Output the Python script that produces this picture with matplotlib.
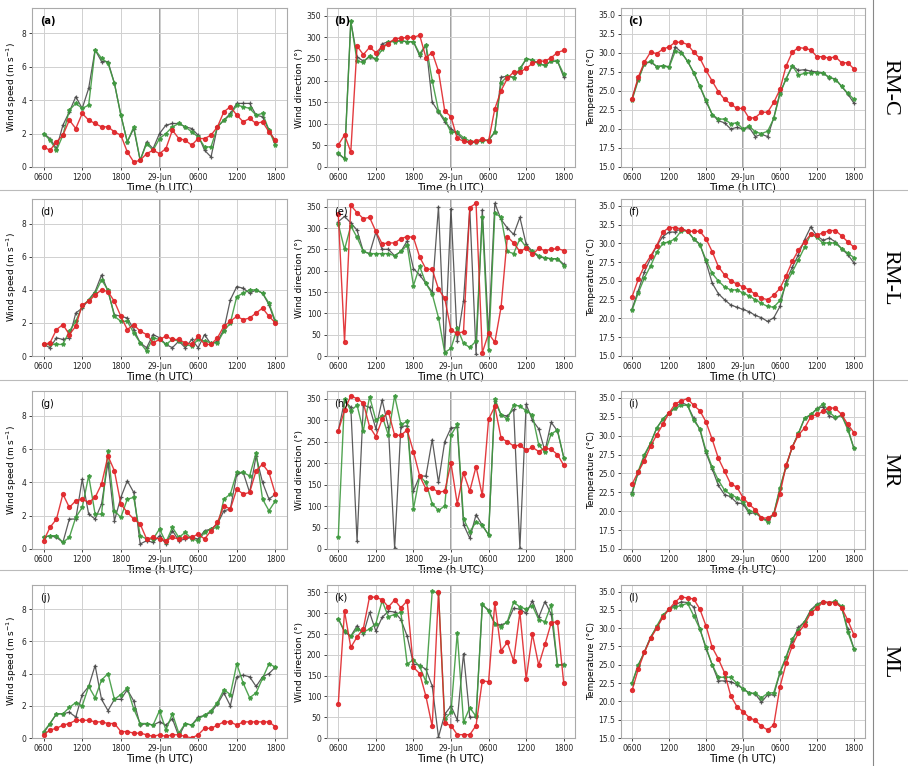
import matplotlib
matplotlib.use("Agg")
import matplotlib.pyplot as plt
from matplotlib.lines import Line2D
import numpy as np

# hourly samples, 0600 UTC 28 Jun -> 1800 UTC 29 Jun
hours = np.arange(37)
tick_pos = [0, 6, 12, 18, 24, 30, 36]
tick_lbl = ['0600', '1200', '1800', '29-Jun', '0600', '1200', '1800']
sites = ['RM-C', 'RM-L', 'MR', 'ML']

# ---- RM-C ----
a_red = [1.2, 1.0, 1.5, 1.9, 2.8, 2.3, 3.2, 2.8, 2.6, 2.4, 2.4, 2.1, 1.9, 0.9, 0.3, 0.4, 0.8, 1.0, 0.8,
         1.1, 2.2, 1.7, 1.6, 1.3, 1.7, 1.7, 1.9, 2.4, 3.3, 3.6, 3.1, 2.7, 2.9, 2.6, 2.7, 2.1, 1.6]
a_green = [2.0, 1.6, 1.0, 1.9, 3.4, 3.8, 3.5, 3.7, 7.0, 6.5, 6.2, 5.0, 3.1, 1.5, 2.4, 0.4, 1.4, 1.0, 1.7,
           2.0, 2.4, 2.6, 2.4, 2.1, 1.8, 1.2, 1.2, 2.4, 2.8, 3.1, 3.7, 3.6, 3.5, 3.1, 3.2, 2.2, 1.3]
a_grey = [2.0, 1.7, 1.1, 2.5, 3.3, 4.2, 3.5, 4.7, 7.0, 6.3, 6.3, 5.0, 3.1, 1.5, 2.3, 0.4, 1.5, 1.1, 2.0,
          2.5, 2.6, 2.6, 2.4, 2.3, 1.9, 1.0, 0.6, 2.4, 2.8, 3.2, 3.8, 3.8, 3.8, 3.1, 3.0, 2.2, 1.5]

b_red = [51, 74, 35, 280, 260, 277, 265, 278, 285, 297, 298, 300, 300, 305, 253, 265, 222, 130, 116,
         66, 60, 58, 60, 65, 60, 135, 177, 205, 220, 220, 228, 240, 245, 245, 253, 265, 270]
b_green = [33, 18, 337, 245, 242, 258, 250, 272, 290, 290, 292, 290, 290, 262, 283, 200, 130, 110, 80,
           80, 68, 60, 58, 60, 62, 82, 195, 210, 207, 228, 250, 248, 238, 235, 245, 245, 215]
b_grey = [30, 20, 337, 255, 245, 255, 250, 285, 290, 292, 292, 290, 290, 257, 283, 150, 128, 105, 88,
          78, 62, 55, 58, 62, 62, 80, 208, 210, 208, 225, 250, 248, 240, 235, 245, 245, 208]

c_red = [24.0, 26.8, 28.8, 30.1, 29.9, 30.5, 30.8, 31.4, 31.4, 31.1, 30.1, 29.3, 27.7, 26.3, 24.9, 23.9,
         23.3, 22.7, 22.7, 21.4, 21.5, 22.2, 22.2, 23.5, 25.2, 28.3, 30.1, 30.7, 30.6, 30.4, 29.5, 29.5,
         29.3, 29.5, 28.7, 28.7, 27.9]
c_green = [23.8, 26.4, 28.6, 28.9, 28.2, 28.3, 28.1, 30.2, 30.0, 28.9, 27.4, 25.6, 23.8, 21.9, 21.3, 21.3,
           20.7, 20.8, 20.0, 20.4, 19.6, 19.4, 19.7, 21.4, 24.6, 26.6, 28.3, 27.1, 27.3, 27.4, 27.4, 27.3,
           26.8, 26.5, 25.6, 24.7, 23.9]
c_grey = [24.0, 26.6, 28.6, 28.8, 28.2, 28.3, 28.2, 30.8, 30.1, 28.9, 27.4, 25.6, 23.6, 21.9, 21.1, 20.8,
          20.0, 20.2, 20.0, 20.2, 19.0, 19.3, 19.0, 21.5, 24.8, 26.6, 28.3, 27.7, 27.8, 27.6, 27.5, 27.4,
          26.7, 26.6, 25.6, 24.6, 23.4]

# ---- RM-L ----
d_red = [0.7, 0.8, 1.6, 1.9, 1.3, 1.8, 3.1, 3.3, 3.7, 4.0, 3.9, 3.3, 2.4, 1.6, 1.9, 1.5, 1.3, 0.8, 1.0,
         1.2, 1.0, 1.0, 0.8, 0.7, 1.2, 0.7, 0.7, 1.1, 1.8, 2.1, 2.4, 2.2, 2.3, 2.6, 2.9, 2.4, 2.0]
d_green = [0.7, 0.7, 0.7, 0.7, 1.5, 2.1, 3.0, 3.4, 3.8, 4.6, 4.0, 2.4, 2.1, 2.1, 1.4, 0.8, 0.3, 1.1, 1.0,
           0.7, 1.0, 0.9, 0.7, 0.6, 1.0, 0.9, 0.8, 0.8, 1.5, 2.0, 3.6, 3.8, 4.0, 4.0, 3.8, 3.2, 2.1]
d_grey = [0.7, 0.5, 1.1, 1.0, 1.1, 2.6, 2.9, 3.4, 3.9, 4.9, 3.9, 2.5, 2.4, 2.3, 1.6, 0.8, 0.5, 1.3, 1.1,
          0.7, 0.5, 0.9, 0.5, 1.0, 0.5, 1.3, 0.7, 0.9, 1.6, 3.4, 4.2, 4.1, 3.8, 4.0, 3.8, 3.1, 2.0]

e_red = [332, 33, 353, 336, 322, 325, 292, 263, 265, 265, 275, 280, 278, 232, 204, 203, 157, 135, 60,
         53, 57, 348, 358, 8, 53, 32, 115, 280, 265, 245, 253, 238, 252, 247, 250, 252, 247]
e_green = [310, 250, 305, 278, 245, 240, 240, 240, 240, 235, 245, 260, 165, 210, 170, 145, 90, 8, 18,
           65, 30, 20, 35, 325, 15, 335, 325, 245, 240, 275, 255, 245, 235, 230, 228, 228, 212]
e_grey = [315, 327, 312, 295, 245, 240, 290, 250, 250, 235, 245, 270, 205, 190, 170, 150, 350, 10, 345,
          35, 130, 345, 5, 343, 50, 358, 320, 300, 285, 325, 262, 245, 232, 230, 228, 228, 215]

f_red = [22.9, 25.2, 27.0, 28.3, 29.7, 31.5, 32.1, 32.1, 31.9, 31.6, 31.6, 31.6, 30.6, 28.9, 26.9, 25.8,
         25.0, 24.6, 24.2, 23.8, 23.2, 22.7, 22.5, 23.1, 24.0, 25.7, 27.6, 29.1, 30.2, 31.2, 31.1, 31.4,
         31.7, 31.7, 31.0, 30.2, 29.5]
f_green = [21.1, 23.4, 25.4, 27.0, 28.8, 30.0, 30.2, 30.6, 31.7, 31.6, 30.6, 29.8, 27.8, 26.0, 25.0, 24.2,
           23.8, 23.8, 23.4, 23.0, 22.5, 22.0, 21.6, 21.5, 22.4, 24.6, 26.2, 27.8, 29.5, 31.2, 30.8, 30.0,
           30.1, 30.0, 29.3, 28.7, 28.1]
f_grey = [21.3, 23.7, 26.2, 28.0, 29.7, 30.9, 31.5, 31.5, 32.0, 31.6, 30.6, 29.9, 27.5, 24.7, 23.3, 22.5,
          21.8, 21.5, 21.2, 20.9, 20.4, 20.1, 19.6, 20.1, 21.6, 25.0, 26.8, 28.5, 30.5, 32.2, 31.0, 30.4,
          30.7, 30.2, 29.3, 28.5, 27.4]

# ---- MR ----
g_red = [0.5, 1.3, 1.8, 3.3, 2.5, 2.9, 3.0, 2.8, 3.1, 3.9, 5.6, 4.7, 2.7, 2.2, 1.8, 1.5, 0.6, 0.7, 0.6,
         0.5, 0.7, 0.6, 0.7, 0.7, 0.9, 0.6, 1.1, 1.6, 2.6, 2.4, 3.6, 3.3, 3.4, 4.7, 5.1, 4.6, 3.3]
g_green = [0.7, 0.8, 0.8, 0.4, 0.7, 1.9, 2.5, 4.4, 2.1, 2.1, 5.9, 2.3, 1.9, 3.0, 3.1, 0.8, 0.6, 0.6, 1.2,
           0.4, 1.3, 0.7, 1.0, 0.6, 0.5, 1.0, 1.2, 1.3, 3.0, 3.3, 4.6, 4.6, 4.4, 5.8, 3.0, 2.3, 2.9]
g_grey = [0.7, 0.8, 0.7, 0.4, 1.8, 1.8, 4.2, 2.1, 1.8, 2.7, 5.2, 1.7, 3.1, 4.1, 3.4, 0.3, 0.5, 0.4, 0.8,
          0.3, 1.1, 0.5, 0.6, 0.7, 0.6, 1.1, 1.2, 1.5, 2.3, 2.4, 4.5, 4.6, 3.4, 5.6, 4.0, 3.0, 3.3]

h_red = [275, 323, 357, 350, 340, 285, 262, 302, 320, 265, 265, 277, 227, 170, 140, 142, 132, 135, 200,
         105, 177, 135, 192, 125, 302, 332, 258, 250, 240, 242, 230, 237, 227, 235, 232, 220, 195]
h_green = [28, 350, 322, 335, 275, 355, 300, 310, 265, 357, 290, 297, 93, 170, 155, 105, 90, 100, 265,
           290, 70, 40, 63, 55, 33, 350, 312, 303, 335, 333, 322, 312, 243, 225, 268, 277, 213]
h_grey = [275, 345, 330, 18, 335, 330, 280, 347, 285, 2, 285, 287, 135, 170, 170, 255, 155, 250, 282,
          283, 57, 25, 80, 55, 33, 345, 312, 310, 325, 2, 337, 300, 280, 228, 295, 275, 213]

i_red = [23.6, 25.2, 26.7, 28.6, 30.1, 31.5, 33.0, 34.2, 34.6, 34.9, 34.0, 33.3, 31.8, 29.5, 27.0, 25.3,
         23.6, 23.2, 21.8, 20.9, 20.2, 19.1, 19.1, 19.6, 22.3, 26.1, 28.5, 30.1, 31.0, 32.5, 32.8, 33.2,
         33.7, 33.6, 32.8, 31.5, 30.4]
i_green = [22.3, 25.3, 27.5, 29.0, 31.0, 32.2, 33.0, 33.6, 34.0, 34.0, 32.0, 30.9, 28.0, 25.8, 24.1, 22.8,
           22.2, 21.8, 21.2, 20.0, 19.9, 19.1, 18.6, 19.7, 23.1, 26.0, 28.5, 30.3, 32.3, 32.8, 33.5, 34.2,
           33.1, 32.4, 32.7, 30.8, 28.3]
i_grey = [22.5, 25.1, 27.3, 29.0, 31.0, 32.2, 33.0, 33.7, 34.4, 34.0, 32.3, 30.8, 27.7, 25.6, 23.4, 22.2,
          21.9, 21.1, 21.0, 19.7, 19.8, 19.1, 18.8, 19.6, 23.0, 25.9, 28.5, 30.3, 32.3, 32.7, 33.6, 33.8,
          32.6, 32.3, 32.7, 31.0, 28.3]

# ---- ML ----
j_red = [0.2, 0.5, 0.6, 0.8, 0.9, 1.1, 1.1, 1.1, 1.0, 1.0, 0.9, 0.9, 0.4, 0.4, 0.3, 0.3, 0.2, 0.1, 0.2,
         0.1, 0.2, 0.2, 0.1, 0.0, 0.2, 0.6, 0.6, 0.8, 1.0, 1.0, 0.8, 1.0, 1.0, 1.0, 1.0, 1.0, 0.7]
j_green = [0.4, 0.9, 1.5, 1.5, 1.9, 2.2, 2.0, 3.2, 2.5, 3.6, 4.0, 2.4, 2.7, 3.1, 1.8, 0.9, 0.9, 0.8, 1.7,
           0.5, 1.5, 0.3, 0.9, 0.8, 1.2, 1.4, 1.7, 2.2, 3.0, 2.7, 4.6, 3.4, 2.5, 2.8, 3.7, 4.6, 4.4]
j_grey = [0.3, 0.9, 1.5, 1.5, 1.6, 1.3, 2.7, 3.2, 4.5, 2.4, 1.7, 2.4, 2.4, 3.0, 2.3, 0.8, 0.9, 0.8, 1.0,
          0.8, 1.2, 0.1, 0.9, 0.8, 1.3, 1.4, 1.6, 2.1, 2.8, 2.0, 3.8, 3.9, 3.8, 3.2, 3.8, 4.0, 4.4]

k_red = [82, 305, 218, 243, 263, 340, 338, 333, 315, 332, 313, 330, 170, 155, 100, 28, 352, 35, 30,
         8, 8, 8, 30, 138, 135, 325, 210, 230, 185, 303, 142, 250, 175, 225, 277, 280, 132]
k_green = [287, 257, 245, 262, 255, 262, 275, 330, 292, 297, 302, 178, 188, 172, 135, 353, 348, 45, 62,
           253, 38, 73, 52, 322, 305, 275, 268, 280, 327, 315, 310, 318, 285, 280, 320, 175, 175]
k_grey = [287, 255, 245, 270, 250, 302, 257, 290, 305, 303, 285, 245, 178, 175, 165, 125, 2, 57, 77,
          43, 203, 50, 50, 320, 308, 275, 272, 278, 312, 310, 300, 330, 290, 328, 298, 175, 178]

l_red = [21.5, 24.4, 26.7, 28.6, 30.0, 31.5, 32.6, 33.6, 34.3, 34.1, 34.0, 32.6, 30.3, 27.4, 25.8, 23.9,
         20.8, 19.3, 18.6, 17.8, 17.4, 16.6, 16.1, 16.8, 22.0, 25.2, 27.6, 29.4, 30.5, 32.1, 32.7, 33.6,
         33.5, 33.5, 32.8, 31.1, 29.1]
l_green = [22.5, 25.0, 26.7, 28.7, 30.3, 31.8, 32.6, 32.9, 33.1, 33.4, 31.7, 29.9, 27.4, 25.0, 23.3, 23.3,
           23.3, 22.5, 21.7, 21.1, 21.1, 20.5, 21.1, 21.2, 24.0, 26.1, 28.5, 29.8, 30.9, 32.3, 33.2, 33.6,
           33.4, 33.7, 33.0, 29.5, 27.2]
l_grey = [22.5, 24.9, 26.8, 28.8, 30.1, 31.6, 32.6, 33.2, 33.6, 33.5, 32.9, 29.9, 27.2, 25.0, 22.8, 22.8,
          22.7, 22.3, 21.7, 21.2, 21.0, 19.9, 20.9, 20.9, 23.9, 26.0, 28.3, 30.1, 30.9, 32.5, 33.3, 33.6,
          33.5, 33.6, 32.8, 29.9, 27.2]

panels = [
    [('a', a_red, a_green, a_grey), ('b', b_red, b_green, b_grey), ('c', c_red, c_green, c_grey)],
    [('d', d_red, d_green, d_grey), ('e', e_red, e_green, e_grey), ('f', f_red, f_green, f_grey)],
    [('g', g_red, g_green, g_grey), ('h', h_red, h_green, h_grey), ('i', i_red, i_green, i_grey)],
    [('j', j_red, j_green, j_grey), ('k', k_red, k_green, k_grey), ('l', l_red, l_green, l_grey)],
]

W, H = 908, 766
fig = plt.figure(figsize=(W / 100, H / 100), dpi=100)
fig.patch.set_facecolor('white')

col_x = [(32, 287), (327, 575), (621, 865)]
row_y = [(8, 167), (199, 356), (391, 549), (585, 738)]

RED = '#e0262a'
GREEN = '#3f9a3f'
GREY = '#4a4a4a'


def px_rect(x0, x1, y0, y1):
    return [x0 / W, 1 - y1 / H, (x1 - x0) / W, (y1 - y0) / H]


for r, row in enumerate(panels):
    for c, (tag, red, green, grey) in enumerate(row):
        ax = fig.add_axes(px_rect(*col_x[c], *row_y[r]))
        ax.plot(hours, grey, '-+', color=GREY, lw=0.9, ms=3.5, mew=0.9, alpha=0.9)
        ax.plot(hours, green, '-*', color=GREEN, lw=1.0, ms=3, alpha=0.9)
        ax.plot(hours, red, '-o', color=RED, lw=1.0, ms=2.8, alpha=0.9)
        ax.axvline(18, color='#999999', lw=1.3, zorder=0)
        ax.set_xticks(tick_pos)
        ax.set_xticklabels(tick_lbl)
        ax.set_xlim(-1.8, 37.8)
        if c == 0:
            ax.set_ylim(0, 9.5)
            ax.set_yticks([0, 2, 4, 6, 8])
            ax.set_ylabel('Wind speed (m s$^{-1}$)', fontsize=6.5, labelpad=2)
        elif c == 1:
            ax.set_ylim(0, 368)
            ax.set_yticks(range(0, 351, 50))
            ax.set_ylabel('Wind direction (°)', fontsize=6.5, labelpad=2)
        else:
            ax.set_ylim(15, 35.9)
            ax.set_yticks(np.arange(15, 35.1, 2.5))
            ax.set_yticklabels([f'{v:.1f}' for v in np.arange(15, 35.1, 2.5)])
            ax.set_ylabel('Temperature (°C)', fontsize=6.5, labelpad=2)
        ax.set_xlabel('Time (h UTC)', fontsize=7.5, labelpad=0.5)
        ax.tick_params(labelsize=5.5, length=2, width=0.6, pad=2, colors='#222222')
        ax.grid(True, color='#d0d0d0', lw=0.7)
        ax.set_axisbelow(True)
        for s in ax.spines.values():
            s.set_color('#aaaaaa')
            s.set_linewidth(0.8)
        ax.text(0.03, 0.95, f'({tag})', transform=ax.transAxes, fontsize=7,
                fontweight='bold' if r == 0 else 'normal', va='top', ha='left')

# site names in the right-hand strip
for r, name in enumerate(sites):
    yc = (row_y[r][0] + row_y[r][1]) / 2
    fig.text(890 / W, 1 - yc / H, name, rotation=-90, ha='center', va='center',
             fontsize=16, family='Liberation Serif')

# frame lines between rows and next to the site column
for yp in [190, 380, 570]:
    fig.add_artist(Line2D([0, 1], [1 - yp / H] * 2, color='#bbbbbb', lw=0.8))
fig.add_artist(Line2D([873 / W] * 2, [0, 1], color='#888888', lw=0.8))

fig.savefig('out.png', dpi=100)
